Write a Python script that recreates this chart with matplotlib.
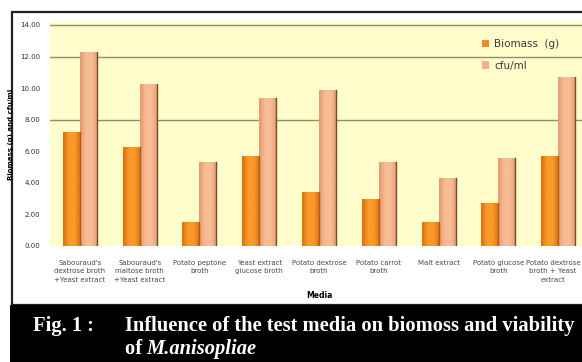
import matplotlib.pyplot as plt
import numpy as np
from matplotlib.colors import LinearSegmentedColormap
from matplotlib.patches import Rectangle
from matplotlib.transforms import ScaledTranslation

media = ["Sabouraud's\ndextrose broth\n+Yeast extract",
         "Sabouraud's\nmaltose broth\n+Yeast extract",
         "Potato peptone\nbroth",
         "Yeast extract\nglucose broth",
         "Potato dextrose\nbroth",
         "Potato carrot\nbroth",
         "Malt extract",
         "Potato glucose\nbroth",
         "Potato dextrose\nbroth + Yeast\nextract"]
biomass = [7.2, 6.25, 1.55, 5.7, 3.4, 2.95, 1.55, 2.7, 5.7]
cfu = [12.3, 10.25, 5.3, 9.35, 9.9, 5.3, 4.3, 5.6, 10.7]
yticks = [0, 2, 4, 6, 8, 10, 12, 14]

W, H = 582, 362
fig = plt.figure(figsize=(W / 100, H / 100), dpi=100)
fig.patch.set_facecolor('white')

# chart frame and caption band
fig.patches.append(Rectangle((12 / W, 1 - 305 / H), 600 / W, 293 / H,
                             transform=fig.transFigure, facecolor='white',
                             edgecolor='#222222', lw=1.6, zorder=0))
fig.patches.append(Rectangle((10 / W, 0), 1, 1 - 305 / H,
                             transform=fig.transFigure, facecolor='black',
                             edgecolor='none', zorder=1))

ax = fig.add_axes([50 / W, 1 - 246 / H, 538 / W, 224 / H])
ax.set_zorder(3)
ax.set_facecolor('#FFFDCB')

x = np.arange(len(media))
bw = 0.285


def shade(c_edge, c_mid):
    return LinearSegmentedColormap.from_list('s', [c_edge, c_mid, c_mid, c_edge])


cm_bio = shade('#D96F10', '#F99A2A')
cm_cfu = shade('#E39A6E', '#F8BC94')
grad = np.linspace(0, 1, 64).reshape(1, -1)


def gradient_bars(bars, cmap, edge):
    for b in bars:
        x0, y0 = b.get_x(), b.get_y()
        w, h = b.get_width(), b.get_height()
        im = ax.imshow(grad, cmap=cmap, aspect='auto', extent=[x0, x0 + w, y0, y0 + h],
                       zorder=2, interpolation='bilinear')
        im.set_clip_path(b)
        ax.plot([x0 + w, x0 + w], [y0, y0 + h], color=edge, lw=1.0, zorder=3)


b1 = ax.bar(x - bw / 2, biomass, bw, color='#F28A20', label='Biomass  (g)', zorder=2)
b2 = ax.bar(x + bw / 2, cfu, bw, color='#F4AF85', label='cfu/ml', zorder=2)
gradient_bars(b1, cm_bio, '#B85A10')
gradient_bars(b2, cm_cfu, '#7A4A2A')

ax.set_xlim(-0.5, 8.5)
ax.set_ylim(0, 14.19)
for g in [8, 12, 14]:
    ax.axhline(g, color='#8F8F6A', lw=1.0, zorder=1)

ax.set_yticks(yticks)
ax.set_yticklabels(['%.2f' % v for v in yticks], fontsize=5, color='#333333')
ax.set_xticks(x)
ax.set_xticklabels(media, fontsize=5, color='#4A4A4A', linespacing=1.5)
ax.tick_params(length=0)
ax.tick_params(axis='y', pad=7)
ax.tick_params(axis='x', pad=10)
for s in ax.spines.values():
    s.set_visible(False)

# nudge the last category label so it stays inside the frame
last = ax.get_xticklabels()[-1]
last.set_transform(last.get_transform() + ScaledTranslation(-5 / 100, 0, fig.dpi_scale_trans))

ax.set_ylabel('Biomass (g) and cfu/ml', fontsize=5, fontweight='bold')
ax.yaxis.set_label_coords(-36 / 538, 0.5)
ax.set_xlabel('Media', fontsize=5.5, fontweight='bold', labelpad=6)

leg = ax.legend(loc='upper left', bbox_to_anchor=(0.785, 0.965), frameon=False,
                fontsize=7.5, handlelength=0.7, handleheight=0.7, labelspacing=1.1,
                handletextpad=0.5, labelcolor='#3A3A3A')

cap = dict(color='white', fontsize=14.8, fontweight='bold', family='Liberation Serif',
           va='baseline', zorder=5)
fig.text(33 / W, 1 - 331 / H, 'Fig. 1 :', **cap)
fig.text(125 / W, 1 - 331 / H, 'Influence of the test media on biomoss and viability', **cap)
fig.text(125 / W, 1 - 354 / H, 'of ', **cap)
fig.text(146 / W, 1 - 354 / H, 'M.anisopliae', fontstyle='italic', **cap)

fig.savefig('out.png', dpi=100)
